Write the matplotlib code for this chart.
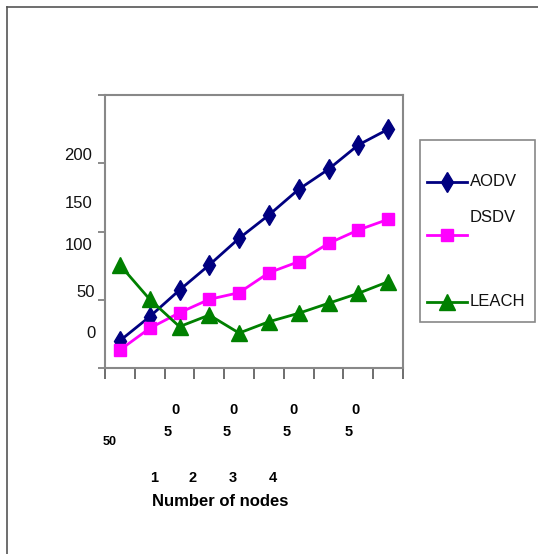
import matplotlib
matplotlib.use("Agg")
import matplotlib.pyplot as plt
from matplotlib.lines import Line2D
from matplotlib.patches import Rectangle

# values (y scale 0..200)
categories = [1, 2, 3, 4, 5, 6, 7, 8, 9, 10]
aodv = [20.0, 37.6, 57.1, 75.5, 95.0, 112.1, 130.9, 145.6, 163.4, 174.9]
dsdv = [13.2, 29.1, 40.5, 50.3, 55.2, 69.8, 77.9, 91.3, 101.1, 108.9]
leach = [75.5, 50.3, 30.3, 38.8, 25.6, 33.9, 40.1, 47.4, 54.7, 63.2]

series_names = ["AODV", "DSDV", "LEACH"]
colors = ["#000080", "#ff00ff", "#008000"]
markers = ["d", "s", "^"]
msizes = [10, 9, 11]

# the (garbled) tick labels as they appear
ylabels = ["200", "150", "100", "50", "0"]
xlabel_top = ["0", "0", "0", "0"]
xlabel_mid = ["5", "5", "5", "5"]
xlabel_low = ["1", "2", "3", "4"]

W, H = 538, 554
fonts = ["Liberation Sans Narrow", "Liberation Sans", "DejaVu Sans"]
plt.rcParams["font.family"] = fonts

fig = plt.figure(figsize=(W / 100, H / 100), dpi=100)


def fx(px):
    return px / W


def fy(py):
    return 1 - py / H


ax = fig.add_axes([fx(105), fy(368), fx(403) - fx(105), fy(95) - fy(368)])

xs = [c - 0.5 for c in categories]
for vals, col, mk, ms in zip([aodv, dsdv, leach], colors, markers, msizes):
    ax.plot(xs, vals, color=col, lw=2, marker=mk, markersize=ms,
            markerfacecolor=col, markeredgecolor=col, clip_on=False)

ax.set_xlim(0, 10)
ax.set_ylim(0, 200)
ax.set_xticks(range(0, 11))
ax.set_yticks([0, 50, 100, 150, 200])
ax.set_xticklabels([])
ax.set_yticklabels([])
ax.tick_params(axis="x", direction="out", length=8, width=1.2, color="#555555")
ax.tick_params(axis="y", direction="out", length=5, width=1.2, color="#777777")
for s in ax.spines.values():
    s.set_color("#888888")
    s.set_linewidth(1.5)

# y labels, placed where the picture has them
ylab_pos = [(92, 156), (92, 203), (92, 246), (95, 292), (96, 333)]
for t, (x, y) in zip(ylabels, ylab_pos):
    fig.text(fx(x), fy(y), t, ha="right", va="center", fontsize=12, color="#111111")

# x labels
for t, x in zip(xlabel_top, [175, 233, 293, 355]):
    fig.text(fx(x), fy(410), t, ha="center", va="center", fontsize=10.5, fontweight="bold")
for t, x in zip(xlabel_mid, [168, 227, 287, 349]):
    fig.text(fx(x), fy(432), t, ha="center", va="center", fontsize=10.5, fontweight="bold")
fig.text(fx(110), fy(442), "50", ha="center", va="center", fontsize=9, fontweight="bold")
for t, x in zip(xlabel_low, [154, 193, 233, 273]):
    fig.text(fx(x), fy(478), t, ha="center", va="center", fontsize=10.5, fontweight="bold")
fig.text(fx(220), fy(502), "Number of nodes", ha="center", va="center",
         fontsize=12, fontweight="bold")

# legend box
fig.add_artist(Rectangle((fx(420), fy(322)), fx(535) - fx(420), fy(140) - fy(322),
                         transform=fig.transFigure, fill=False,
                         edgecolor="#888888", lw=1.2))
leg_line_y = [182, 235, 302]
leg_text_y = [182, 218, 302]
for name, col, mk, ms, ly, ty in zip(series_names, colors, markers, msizes,
                                     leg_line_y, leg_text_y):
    fig.add_artist(Line2D([fx(427), fx(467)], [fy(ly), fy(ly)], color=col, lw=2,
                          transform=fig.transFigure))
    fig.add_artist(Line2D([fx(447)], [fy(ly)], color=col, marker=mk, markersize=ms,
                          markerfacecolor=col, markeredgecolor=col,
                          transform=fig.transFigure))
    fig.text(fx(470), fy(ty), name, ha="left", va="center", fontsize=12, color="#111111")

# outer frame lines (top and left)
fig.add_artist(Line2D([fx(7), 1], [fy(7), fy(7)], color="#555555", lw=1.2,
                      transform=fig.transFigure))
fig.add_artist(Line2D([fx(7), fx(7)], [fy(7), 0], color="#555555", lw=1.2,
                      transform=fig.transFigure))

fig.savefig("out.png", dpi=100)
